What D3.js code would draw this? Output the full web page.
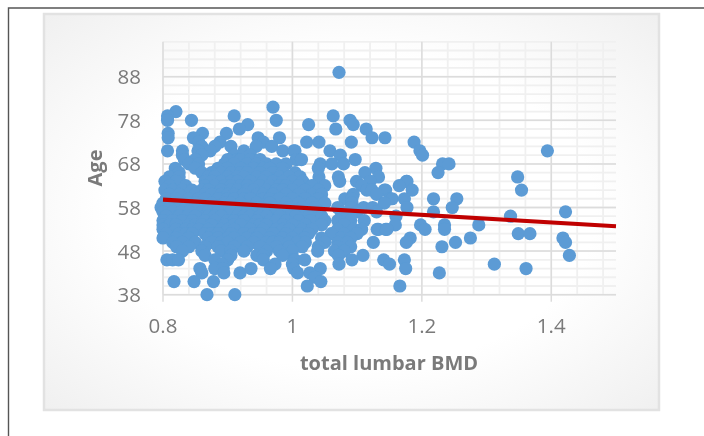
<!DOCTYPE html>
<html><head><meta charset="utf-8">
<script src="https://cdn.jsdelivr.net/npm/d3@7/dist/d3.min.js"></script>
<style>html,body{margin:0;padding:0;background:#fff}svg{display:block}text{font-family:"Open Sans",sans-serif}</style>
</head><body><div id="c"></div>
<script>
const ageLevels=[89,81,80,79,78,77,76,75,74,73,72,71,70,69,68,67,66,65,64,63,62,61,60,59,58,57,56,55,54,53,52,51,50,49,48,47,46,45,44,43,42,41,40,38];
const bmdByAge=[
[1.072],
[.970],
[.820],
[.807,.910,1.063],
[.807,.844,.975,1.089],
[.931,1.025,1.094],
[.918,1.067,1.114],
[.808,.861,.898],
[.808,.847,.947,.980,1.123,1.143],
[.855,.888,.955,1.022,1.041,1.091,1.188],
[.860,.880,.905,.944,.968],
[.807,.830,.854,.873,.925,.985,1.002,1.004,1.058,1.197,1.394],
[.830,.860,.910,.925,.935,1.074,1.201],
[.833,.850,.900,.915,.920,.935,.950,1.006,1.014,1.097],
[.840,.855,.895,.910,.930,.945,.960,.975,.990,1.043,1.061,1.079,1.232,1.242],
[.819,.850,.885,.900,.920,.940,.955,.965,.985,1.040,1.129],
[.825,.860,.875,.890,.905,.920,.930,.950,.970,.985,1.004,1.112,1.225],
[.810,.825,.870,.880,.900,.915,.925,.945,.960,.980,.995,1.012,1.041,1.071,1.133,1.348],
[.803,.820,.865,.875,.890,.905,.915,.935,.955,.970,.985,1.000,1.016,1.041,1.073,1.099,1.120,1.176,1.177],
[.810,.835,.865,.880,.895,.905,.920,.930,.950,.965,.980,.990,1.010,1.030,1.050,1.107,1.165],
[.803,.815,.830,.845,.860,.870,.890,.905,.915,.930,.940,.960,.975,.985,1.000,1.020,1.040,1.115,1.123,1.142,1.144,1.185,1.354],
[.810,.825,.850,.865,.875,.890,.900,.910,.925,.945,.955,.970,.990,1.010,1.030,1.045,1.094,1.130],
[.805,.820,.840,.855,.865,.885,.900,.910,.925,.935,.955,.965,.980,1.000,1.020,1.040,1.081,1.092,1.151,1.154,1.173,1.218,1.254],
[.800,.815,.830,.840,.850,.875,.895,.905,.920,.945,.965,.990,1.010,1.030,1.050,1.092,1.142],
[.797,.810,.825,.835,.855,.865,.880,.900,.915,.925,.940,.950,.970,.985,.995,1.015,1.035,1.070,1.090,1.110,1.124,1.177,1.247],
[.800,.815,.828,.840,.860,.870,.885,.905,.920,.930,.945,.955,.975,.990,1.000,1.020,1.040,1.075,1.100,1.130,1.218,1.422],
[.805,.825,.838,.850,.870,.880,.890,.915,.925,.935,.950,.960,.980,1.005,1.025,1.045,1.085,1.160,1.337],
[.800,.815,.830,.845,.865,.880,.900,.910,.925,.945,.965,.975,.990,1.010,1.028,1.050,1.070,1.090,1.111],
[.800,.810,.820,.840,.850,.860,.875,.895,.910,.920,.940,.950,.960,.985,1.000,1.020,1.045,1.080,1.159,1.198,1.235,1.288],
[.800,.820,.835,.845,.855,.870,.890,.900,.910,.935,.955,.975,.985,.995,1.015,1.030,1.070,1.095,1.107,1.131,1.133,1.144,1.146,1.205,1.235],
[.805,.825,.835,.845,.865,.875,.885,.905,.925,.940,.950,.970,.990,1.010,1.025,1.060,1.080,1.100,1.349,1.367],
[.800,.820,.840,.870,.885,.900,.910,.930,.945,.965,.985,1.000,1.019,1.045,1.075,1.090,1.182,1.275,1.418],
[.815,.830,.850,.875,.890,.900,.920,.940,.960,.970,.980,.995,1.007,1.020,1.050,1.070,1.085,1.125,1.176,1.252,1.422],
[.821,.840,.865,.885,.910,.930,.950,.975,.995,1.015,1.040,1.070,1.090,1.231],
[.830,.860,.890,.905,.925,.960,.980,1.000,1.039,1.065,1.080],
[.865,.905,.945,.955,.985,1.071,1.109,1.428],
[.806,.815,.824,.880,.900,.955,1.002,1.004,1.019,1.092,1.141,1.173],
[.891,.973,1.000,1.072,1.150,1.312],
[.857,.880,.893,.936,.966,1.002,1.043,1.175,1.361],
[.860,.894,.919,1.008,1.027,1.227],
[1.035],
[.817,.848,.878,1.044],
[1.023,1.166],
[.868,.911]
];
const trendBmd=[0.8,1.5];
const trendAge=[59.8,53.7];
const xMajor=[0.8,1,1.2,1.4];
const xTickText=["0.8","1","1.2","1.4"];
const yMajor=[38,48,58,68,78,88];
const xMinor=d3.range(0,18).map(i=>+(0.8+i*0.04).toFixed(2));
const yMinor=d3.range(0,30).map(i=>38+i*2);

const W=704,H=436;
const x=d3.scaleLinear().domain([0.8,1.5]).range([163,616]);
const y=d3.scaleLinear().domain([38,96]).range([294.7,41.8]);
const svg=d3.select("#c").append("svg").attr("width",W).attr("height",H);
const defs=svg.append("defs");
const g=defs.append("radialGradient").attr("id","bg").attr("cx","50%").attr("cy","50%").attr("r","72%");
g.append("stop").attr("offset","0%").attr("stop-color","#ffffff");
g.append("stop").attr("offset","55%").attr("stop-color","#ffffff");
g.append("stop").attr("offset","100%").attr("stop-color","#efefef");
defs.append("filter").attr("id","soft").append("feGaussianBlur").attr("stdDeviation",0.45);

svg.append("rect").attr("width",W).attr("height",H).attr("fill","#fff");
svg.append("path").attr("d",`M8.5 ${H}V8H${W}`).attr("fill","none").attr("stroke","#555").attr("stroke-width",1.4);
svg.append("rect").attr("x",44).attr("y",14).attr("width",615).attr("height",396).attr("fill","url(#bg)").attr("stroke","#e2e2e2").attr("stroke-width",2.5);

const root=svg.append("g").attr("filter","url(#soft)");
const grid=root.append("g");
grid.selectAll(".vm").data(xMinor).join("line").attr("x1",d=>x(d)).attr("x2",d=>x(d)).attr("y1",y(96)).attr("y2",y(38)).attr("stroke","#f0f0f0").attr("stroke-width",1.8);
grid.selectAll(".hm").data(yMinor).join("line").attr("y1",d=>y(d)).attr("y2",d=>y(d)).attr("x1",x(0.8)).attr("x2",x(1.5)).attr("stroke","#f0f0f0").attr("stroke-width",1.8);
grid.selectAll(".hM").data(yMajor).join("line").attr("y1",d=>y(d)).attr("y2",d=>y(d)).attr("x1",x(0.8)).attr("x2",x(1.5)).attr("stroke","#dcdcdc").attr("stroke-width",1.5);
grid.selectAll(".vM").data(xMajor).join("line").attr("x1",d=>x(d)).attr("x2",d=>x(d)).attr("y1",y(96)).attr("y2",y(38)+7).attr("stroke","#dcdcdc").attr("stroke-width",1.5);

const points=ageLevels.flatMap((a,i)=>bmdByAge[i].map(b=>({b,a})));
root.append("g").selectAll("circle").data(points).join("circle")
 .attr("cx",d=>x(d.b)).attr("cy",d=>y(d.a)).attr("r",6.6).attr("fill","#5b9bd5");
const line=d3.line().x(d=>x(d[0])).y(d=>y(d[1]));
root.append("path").attr("d",line(d3.zip(trendBmd,trendAge))).attr("stroke","#c00000").attr("stroke-width",4.2).attr("fill","none");

const t=root.append("g").attr("fill","#7a7a7a");
t.selectAll(".yt").data(yMajor).join("text").attr("x",141).attr("y",d=>y(d)+7.5).attr("text-anchor","end").attr("font-size",20.5).text(d=>d);
t.selectAll(".xt").data(xMajor).join("text").attr("x",d=>x(d)).attr("y",332.5).attr("text-anchor","middle").attr("font-size",20.5).text((d,i)=>xTickText[i]);
t.append("text").attr("x",389).attr("y",370).attr("text-anchor","middle").attr("font-size",20).attr("font-weight",700).text("total lumbar BMD");
t.append("text").attr("transform","translate(102,168) rotate(-90)").attr("text-anchor","middle").attr("font-size",20).attr("font-weight",700).text("Age");
</script></body></html>
